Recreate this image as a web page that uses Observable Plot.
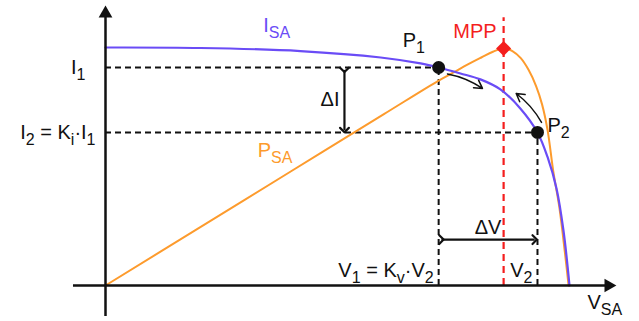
<!DOCTYPE html>
<html>
<head>
<meta charset="utf-8">
<script src="https://cdn.jsdelivr.net/npm/d3@7"></script>
<script src="https://cdn.jsdelivr.net/npm/@observablehq/plot@0.6"></script>
<style>
  body { margin: 0; background: #fff; }
  svg { display: block; }
</style>
</head>
<body>
<div id="chart"></div>
<script>
// Solar-array characteristic, normalised: voltage V (0..Voc = 1), current I (0..Isc = 1)
const ivVoltage = [0, 0.205, 0.42, 0.593, 0.679, 0.718, 0.765, 0.808, 0.851, 0.894, 0.931, 0.953, 0.972, 0.987, 1.0];
const ivCurrent = [1.0, 0.998, 0.985, 0.958, 0.933, 0.916, 0.891, 0.866, 0.824, 0.744, 0.643, 0.538, 0.408, 0.231, 0];

// Power curve drawn on the same vertical scale (normalised P)
const pvVoltage = [0, 0.2, 0.4, 0.6, 0.718, 0.75, 0.78, 0.81, 0.835, 0.858, 0.877, 0.895, 0.912, 0.928, 0.941, 0.953, 0.965, 0.978, 0.99, 0.998];
const pvPower   = [0, 0.24, 0.48, 0.72, 0.861, 0.895, 0.928, 0.958, 0.982, 0.996, 0.985, 0.955, 0.905, 0.838, 0.76, 0.65, 0.48, 0.33, 0.14, 0];

// Operating points P1, P2 on the I–V curve and the maximum power point
const pointNames = ["P_1", "P_2"];
const pointVoltage = [0.718, 0.931];
const pointCurrent = [0.916, 0.643];
const mppVoltage = 0.858;
const mppPower = 0.996;

const PURPLE = "#6a4cf6";
const ORANGE = "#fd9b2d";
const RED = "#f41e1e";
const INK = "#111";
const FS = 20;      // main label size
const SUB_FS = 16;  // subscript size
const SUB_DY = 6;   // subscript drop

const iv = ivVoltage.map((v, k) => ({v, i: ivCurrent[k]}));
const pv = pvVoltage.map((v, k) => ({v, p: pvPower[k]}));
const pts = pointNames.map((name, k) => ({name, v: pointVoltage[k], i: pointCurrent[k]}));
const [P1, P2] = pts;
const dash = {stroke: INK, strokeWidth: 2, strokeDasharray: "6,4"};
const label = (str, opts) => Plot.text([str], {text: d => d, fontSize: FS, fill: INK, ...opts});

const chart = Plot.plot({
  width: 639,
  height: 321,
  marginLeft: 105,
  marginRight: 70,
  marginTop: 47,
  marginBottom: 36,
  x: {domain: [0, 1], axis: null},
  y: {domain: [0, 1], axis: null},
  style: {fontFamily: "'Liberation Sans', Arial, sans-serif", fontSize: `${FS}px`, background: "#fff", overflow: "visible"},
  marks: [
    // construction lines: I1, I2 and V1, V2
    Plot.ruleY(pts, {y: "i", x1: 0, x2: "v", ...dash}),
    Plot.ruleX(pts, {x: "v", y1: 0, y2: "i", ...dash}),
    // maximum power point marker line
    Plot.ruleX([mppVoltage], {y1: 0, y2: 1.125, stroke: RED, strokeWidth: 2.2, strokeDasharray: "7,5"}),

    // P–V and I–V curves
    Plot.line(pv, {x: "v", y: "p", stroke: ORANGE, strokeWidth: 2, curve: "catmull-rom"}),
    Plot.line(iv, {x: "v", y: "i", stroke: PURPLE, strokeWidth: 2.2, curve: "catmull-rom"}),

    // axes with arrow heads
    Plot.ruleX([0], {y1: -0.13, y2: 1.13, stroke: INK, strokeWidth: 2.5}),
    Plot.ruleY([0], {x1: -0.069, x2: 1.08, stroke: INK, strokeWidth: 2.5}),
    Plot.dot([0], {x: 0, y: 1.143, symbol: "triangle", r: 5.1, fill: INK}),
    Plot.dot([0], {x: 1.084, y: 0, symbol: "triangle", r: 5.1, fill: INK, rotate: 90}),

    // ΔI and ΔV double arrows
    Plot.link([0], {x1: 0.515, x2: 0.515, y1: P1.i - 0.01, y2: P2.i + 0.01, stroke: INK, strokeWidth: 2.2, markerStart: "arrow", markerEnd: "arrow"}),
    Plot.link([0], {x1: P1.v + 0.006, x2: P2.v - 0.006, y1: 0.193, y2: 0.193, stroke: INK, strokeWidth: 2.2, markerStart: "arrow", markerEnd: "arrow"}),

    // direction of the perturbation along the curve
    Plot.arrow([0], {x1: 0.737, y1: 0.889, x2: 0.8125, y2: 0.828, bend: 12, stroke: INK, strokeWidth: 1.5, headLength: 9}),
    Plot.arrow([0], {x1: 0.9397, y1: 0.685, x2: 0.8851, y2: 0.8067, bend: -12, stroke: INK, strokeWidth: 1.5, headLength: 9}),

    // operating points and MPP
    Plot.dot(pts, {x: "v", y: "i", r: 6.5, fill: INK}),
    Plot.dot([0], {x: mppVoltage, y: mppPower, symbol: "square", rotate: 45, r: 6, fill: RED}),

    // labels
    label(`I_1`, {x: 0, y: P1.i, textAnchor: "end", dx: -20}),
    label(`I_2 = K_i·I_1`, {x: 0, y: P2.i, textAnchor: "end", dx: -10}),
    label(`V_1 = K_v·V_2`, {x: P1.v, y: 0, textAnchor: "end", lineAnchor: "bottom", dx: -5, dy: -9}),
    label(`V_2`, {x: P2.v, y: 0, textAnchor: "end", lineAnchor: "bottom", dx: -5, dy: -9}),
    label(`V_{SA}`, {x: 1, y: 0, textAnchor: "start", lineAnchor: "top", dx: 18, dy: 9}),
    label(`ΔI`, {x: 0.515, y: (P1.i + P2.i) / 2, textAnchor: "end", dx: -5}),
    label(`ΔV`, {x: (P1.v + P2.v) / 2, y: 0.193, textAnchor: "middle", lineAnchor: "bottom", dy: -6}),
    label(P1.name, {x: P1.v, y: P1.i, textAnchor: "start", lineAnchor: "bottom", dx: -36, dy: -20}),
    label(P2.name, {x: P2.v, y: P2.i, textAnchor: "start", lineAnchor: "bottom", dx: 10, dy: 0}),
    label(`MPP`, {x: mppVoltage, y: mppPower, textAnchor: "end", lineAnchor: "bottom", dx: -7, dy: -10, fill: RED}),
    label(`I_{SA}`, {x: 0.34, y: 1.067, textAnchor: "start", lineAnchor: "bottom", fill: PURPLE}),
    label(`P_{SA}`, {x: 0.328, y: 0.538, textAnchor: "start", lineAnchor: "bottom", fill: ORANGE})
  ]
});

// Turn "X_{sub}" / "X_s" into subscript tspans
chart.querySelectorAll("text").forEach(t => {
  const s = t.textContent;
  if (!s.includes("_")) return;
  t.textContent = "";
  const re = /_(?:\{([^}]*)\}|(.))/g;
  let last = 0, m, lowered = false;
  const add = (str, sub) => {
    if (!str) return;
    const span = document.createElementNS("http://www.w3.org/2000/svg", "tspan");
    span.textContent = str;
    if (sub) {
      span.setAttribute("font-size", `${SUB_FS}px`);
      span.setAttribute("dy", `${SUB_DY}`);
      lowered = true;
    } else if (lowered) {
      span.setAttribute("dy", `${-SUB_DY}`);
      lowered = false;
    }
    t.appendChild(span);
  };
  while ((m = re.exec(s))) {
    add(s.slice(last, m.index), false);
    add(m[1] ?? m[2], true);
    last = re.lastIndex;
  }
  add(s.slice(last), false);
});

document.getElementById("chart").appendChild(chart);
</script>
</body>
</html>
